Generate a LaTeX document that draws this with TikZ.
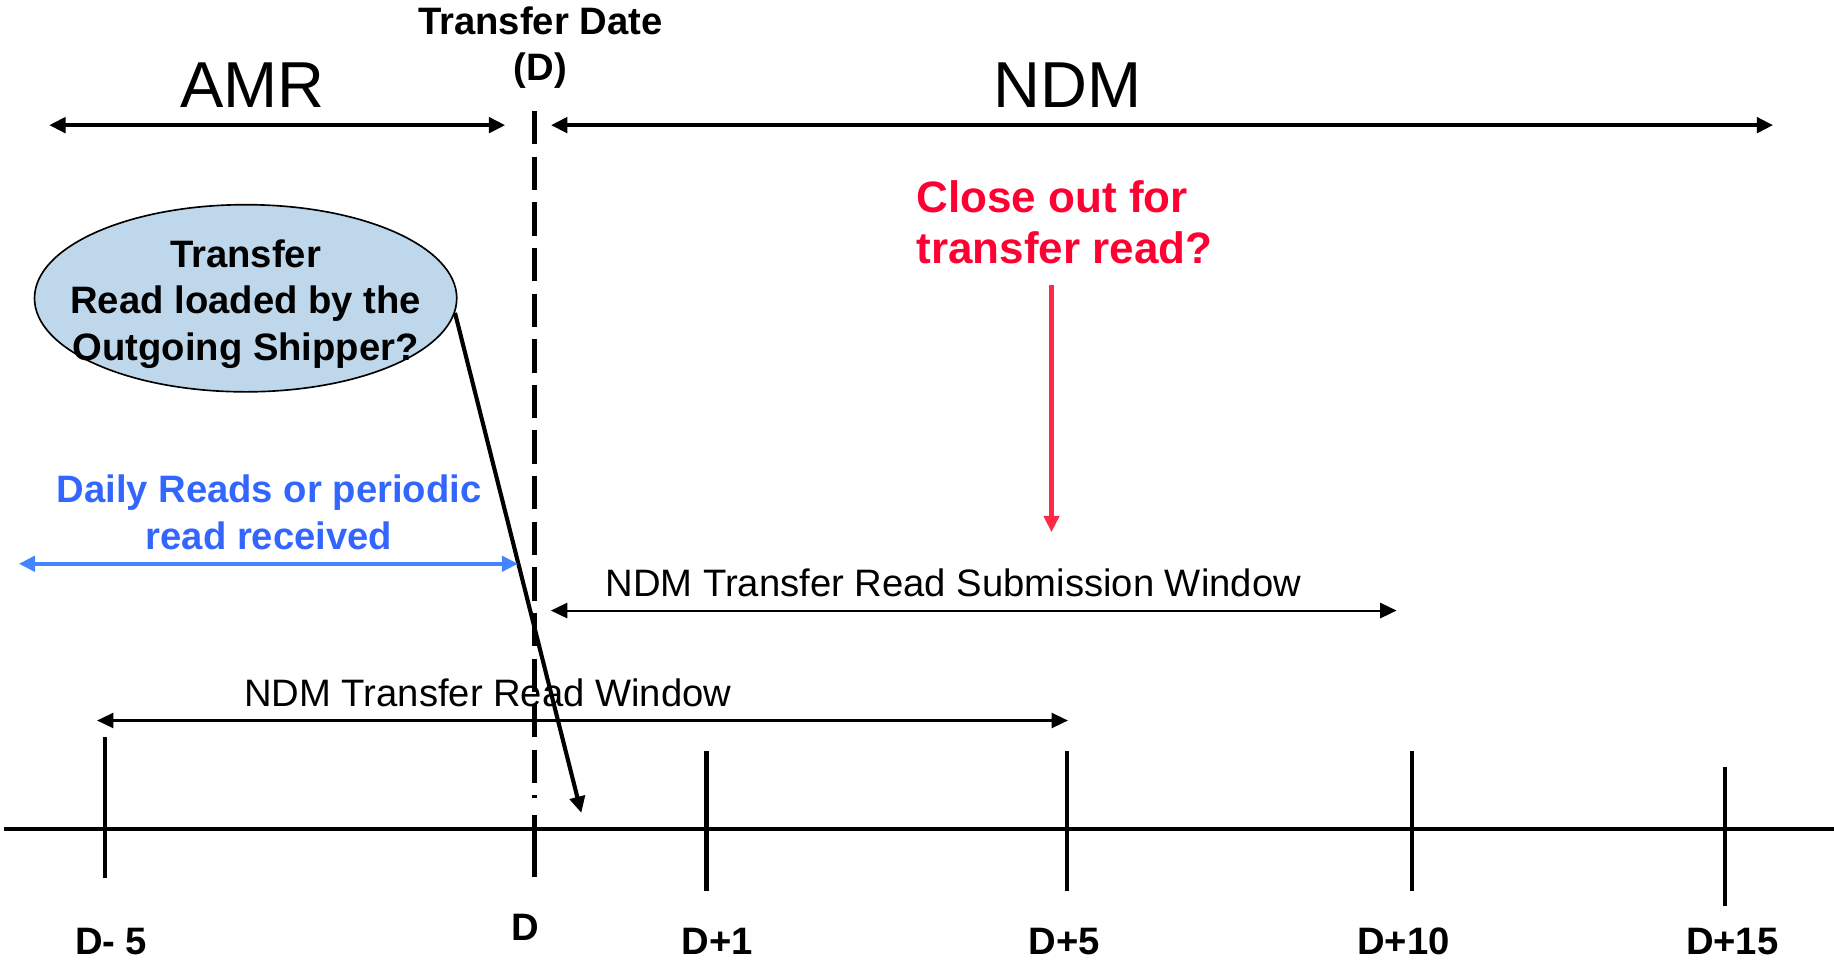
\documentclass[tikz,border=0pt]{standalone}
\usepackage{fontspec}
\setmainfont{Liberation Sans}
\usetikzlibrary{shapes.geometric,arrows.meta,positioning,calc}
\definecolor{readblue}{RGB}{51,102,255}
\definecolor{spanblue}{RGB}{66,133,255}
\definecolor{closered}{RGB}{255,0,51}
\definecolor{arrowred}{RGB}{255,40,70}
\definecolor{shipfill}{RGB}{190,215,235}

\begin{document}
\begin{tikzpicture}[
    >={Triangle[length=0.14cm,width=0.13cm]},
    bigtxt/.style={inner sep=0pt, font=\fontsize{15.8}{19}\selectfont},
    boldtxt/.style={inner sep=0pt, font=\fontsize{9.3}{11.3}\selectfont\bfseries},
    plaintxt/.style={inner sep=0pt, font=\fontsize{9.3}{11.3}\selectfont},
    span/.style={<->, line width=1pt},
    thinspan/.style={<->, line width=0.5pt},
    tickln/.style={line width=1pt}
]
\useasboundingbox (0,0) rectangle (15.68,8.22);

% AMR / NDM periods
\node[boldtxt] (tdate) at (4.62,8.04) {Transfer Date};
\node[boldtxt] (tdd) at (4.62,7.62) {(D)};
\node[bigtxt] (amr) at (2.16,7.49) {AMR};
\node[bigtxt] (ndm) at (9.13,7.49) {NDM};
\coordinate (amrL) at (0.42,7.15);
\coordinate (amrR) at (4.32,7.15);
\coordinate (ndmL) at (4.71,7.15);
\coordinate (ndmR) at (15.16,7.15);
\draw[span] (amrL) -- (amrR);
\draw[span] (ndmL) -- (ndmR);

% transfer date line
\coordinate (dtop) at (4.57,7.27);
\coordinate (dmid) at (4.57,1.40);
\coordinate (dlow) at (4.57,1.25);
\coordinate (dbot) at (4.57,0.72);
\draw[line width=1pt, dash pattern=on 0.285cm off 0.105cm] (dtop) -- (dmid);
\draw[line width=1pt] (dlow) -- (dbot);

% outgoing shipper question
\node[ellipse, draw, fill=shipfill, minimum width=3.61cm, minimum height=1.6cm] (loadq) at (2.10,5.67) {};
\node[boldtxt, align=center] (loadtxt) at ([yshift=-0.05cm]loadq.center) {Transfer\\Read loaded by the\\Outgoing Shipper?};
\coordinate (loadend) at (4.97,1.27);
\draw[->, line width=1pt] (loadq.-4) -- (loadend);

% close out
\node[inner sep=0pt, font=\fontsize{10.7}{12.5}\selectfont\bfseries, text=closered, align=left, anchor=west] (closeq) at (7.83,6.32) {Close out for\\transfer read?};
\coordinate (closebot) at (8.99,3.67);
\draw[->, line width=1pt, arrowred] (closeq.south -| closebot) ++(0,-0.17) -- (closebot);

% daily reads
\node[boldtxt, text=readblue, align=center] (daily) at (2.30,3.84) {Daily Reads or periodic\\read received};
\coordinate (dailyL) at (0.16,3.40);
\coordinate (dailyR) at (4.43,3.40);
\draw[span, spanblue] (dailyL) -- (dailyR);

% windows
\node[plaintxt] (subwin) at (8.15,3.24) {NDM Transfer Read Submission Window};
\coordinate (subL) at (4.71,3.00);
\coordinate (subR) at (11.94,3.00);
\draw[thinspan] (subL) -- (subR);
\node[plaintxt] (readwin) at (4.17,2.30) {NDM Transfer Read Window};
\coordinate (rwL) at (0.83,2.06);
\coordinate (rwR) at (9.13,2.06);
\draw[thinspan] (rwL) -- (rwR);

% time axis
\coordinate (axL) at (0.03,1.13);
\coordinate (axR) at (15.68,1.13);
\draw[line width=1pt] (axL) -- (axR);
\foreach \x/\lo/\hi/\lx/\lab [count=\i] in {0.90/0.71/1.92/0.95/{D- 5}, 6.04/0.60/1.80/6.13/{D+1}, 9.12/0.60/1.80/9.10/{D+5}, 12.07/0.60/1.80/12.00/{D+10}, 14.75/0.47/1.66/14.81/{D+15}} {
    \draw[tickln] (\x,\lo) -- (\x,\hi);
    \node[boldtxt] (day\i) at (\lx,0.17) {\lab};
}
\node[boldtxt] (dayD) at (4.49,0.29) {D};
\end{tikzpicture}
\end{document}
